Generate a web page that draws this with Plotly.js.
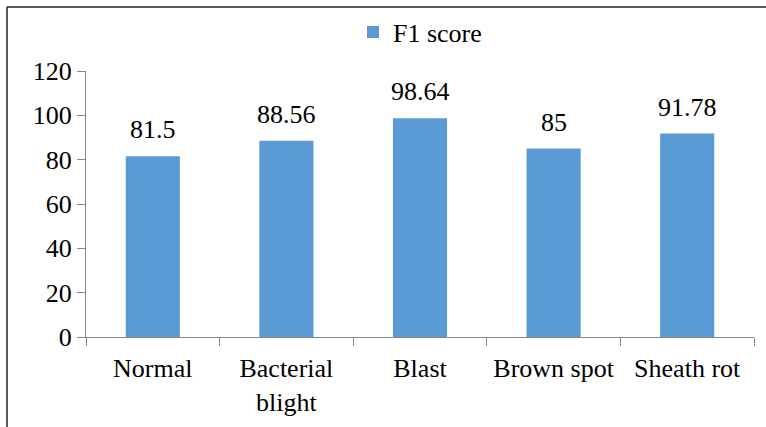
<!DOCTYPE html>
<html>
<head>
<meta charset="utf-8">
<script src="https://cdn.plot.ly/plotly-3.0.1.min.js"></script>
<style>html,body{margin:0;padding:0;background:#fff;}#chart{width:766px;height:427px;}#fw{position:absolute;left:0;top:0;visibility:hidden;font-family:'Liberation Serif';font-size:26px;}</style>
</head>
<body>
<span id="fw">F1 score 0123456789 Normal Bacterial blight Blast Brown spot Sheath rot</span>
<div id="chart"></div>
<script>
const categories = ["Normal", "Bacterial<br>blight", "Blast", "Brown spot", "Sheath rot"];
const f1Scores = [81.5, 88.56, 98.64, 85, 91.78];
const valueLabels = ["81.5", "88.56", "98.64", "85", "91.78"];
const yTicks = [0, 20, 40, 60, 80, 100, 120];

const FONT = "Liberation Serif";

const trace = {
  type: "bar",
  name: "F1 score",
  x: categories,
  y: f1Scores,
  marker: {color: "#5B9BD5"},
  hoverinfo: "x+y"
};

const annotations = categories.map((c, i) => ({
  x: c, y: f1Scores[i], xref: "x", yref: "y",
  text: valueLabels[i], showarrow: false,
  yanchor: "bottom", yshift: 10,
  font: {family: FONT, size: 26, color: "#000"}
}));

const layout = {
  width: 766, height: 427,
  margin: {l: 86, r: 12, t: 71, b: 90},
  paper_bgcolor: "#fff", plot_bgcolor: "#fff",
  font: {family: FONT, size: 26, color: "#000"},
  bargap: 0.595,
  showlegend: true,
  legend: {
    orientation: "h", x: 0.5, xanchor: "center",
    yref: "container", y: 0.925, yanchor: "middle",
    font: {family: FONT, size: 26, color: "#000"}
  },
  xaxis: {
    type: "category",
    showline: true, linecolor: "#868686", linewidth: 1,
    ticks: "outside", tickson: "boundaries", ticklen: 8, tickcolor: "#868686",
    showgrid: false, zeroline: false,
    ticklabelstandoff: 8,
    tickfont: {family: FONT, size: 26, color: "#000"}
  },
  yaxis: {
    range: [0, 120], tickvals: yTicks, ticktext: yTicks.map(String),
    showline: true, linecolor: "#868686", linewidth: 1,
    ticks: "outside", ticklen: 8, tickcolor: "#868686",
    showgrid: false, zeroline: false,
    tickfont: {family: FONT, size: 26, color: "#000"}
  },
  annotations: annotations
};
const pw = 766 - 86 - 12, ph = 427 - 71 - 90;
const fx = (px) => (px - 86) / pw;
const fy = (py) => (427 - 90 - py) / ph;
layout.shapes = [
  {type: "line", xref: "paper", yref: "paper", x0: fx(7), x1: fx(766), y0: fy(7), y1: fy(7), line: {color: "#222", width: 1.5}},
  {type: "line", xref: "paper", yref: "paper", x0: fx(7), x1: fx(7), y0: fy(7), y1: fy(427), line: {color: "#222", width: 1.5}}
];

const config = {displayModeBar: false, staticPlot: true};
Plotly.newPlot("chart", [trace], layout, config);
if (document.fonts && document.fonts.load) {
  document.fonts.load("26px 'Liberation Serif'").then(() => {
    Plotly.react("chart", [trace], layout, config);
  }).catch(() => {});
}
</script>
</body>
</html>
